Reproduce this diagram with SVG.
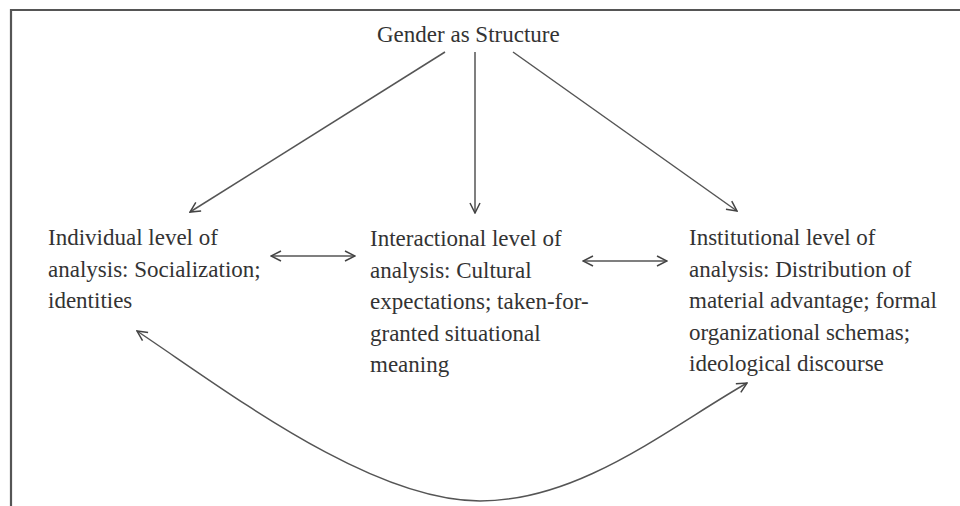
<svg xmlns="http://www.w3.org/2000/svg" width="960" height="506" viewBox="0 0 960 506">
<style>
text{font-family:"Liberation Serif","Times New Roman",serif;font-size:23px;fill:#333}
.c{fill:none;stroke:#555;stroke-width:1.5}
</style>
<defs>
<marker id="ah" viewBox="0 0 12 12" refX="11" refY="6" markerWidth="12" markerHeight="12" markerUnits="userSpaceOnUse" orient="auto-start-reverse">
<path d="M1,1 L11,6 L1,11" fill="none" stroke="#444" stroke-width="1.5"/>
</marker>
</defs>
<rect width="960" height="506" fill="#fff"/>
<path d="M11,506 V10 H960" fill="none" stroke="#555" stroke-width="2.2"/>
<g id="title"><text x="377" y="42">Gender as Structure</text></g>
<g id="individual">
<text x="48" y="245">Individual level of</text>
<text x="48" y="276.5">analysis: Socialization;</text>
<text x="48" y="308">identities</text>
</g>
<g id="interactional">
<text x="370" y="246">Interactional level of</text>
<text x="370" y="277.5">analysis: Cultural</text>
<text x="370" y="309">expectations; taken-for-</text>
<text x="370" y="340.5">granted situational</text>
<text x="370" y="372">meaning</text>
</g>
<g id="institutional">
<text x="689" y="245">Institutional level of</text>
<text x="689" y="276.5">analysis: Distribution of</text>
<text x="689" y="308">material advantage; formal</text>
<text x="689" y="339.5">organizational schemas;</text>
<text x="689" y="371">ideological discourse</text>
</g>
<g id="connectors">
<line class="c" x1="445" y1="52" x2="190" y2="212" marker-end="url(#ah)"/>
<line class="c" x1="475" y1="52" x2="475" y2="213" marker-end="url(#ah)"/>
<line class="c" x1="513" y1="52" x2="737" y2="211" marker-end="url(#ah)"/>
<line class="c" x1="271" y1="256" x2="355" y2="256" marker-start="url(#ah)" marker-end="url(#ah)"/>
<line class="c" x1="583" y1="261" x2="667" y2="261" marker-start="url(#ah)" marker-end="url(#ah)"/>
<path class="c" d="M137,331 C227,391 370,501 480,501 C580,501 667,429 747,383" marker-start="url(#ah)" marker-end="url(#ah)"/>
</g>
</svg>
